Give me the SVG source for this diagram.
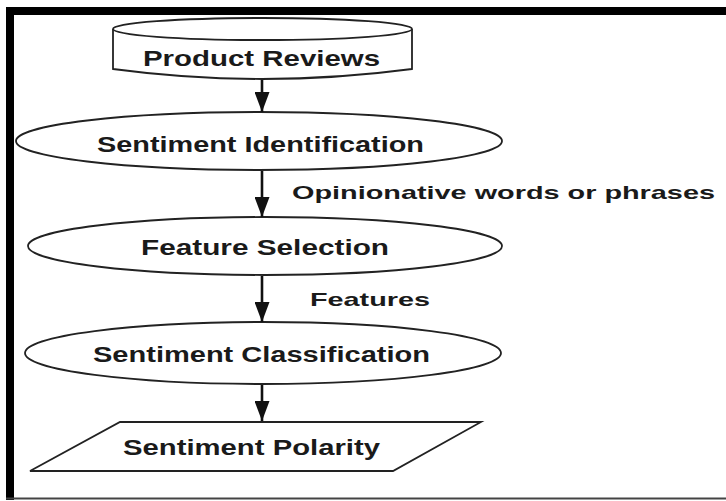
<svg xmlns="http://www.w3.org/2000/svg" width="726" height="501" viewBox="0 0 726 501">
  <defs>
    <marker id="ah" viewBox="0 0 20 15" refX="20" refY="7.5" markerWidth="20" markerHeight="15" markerUnits="userSpaceOnUse" orient="auto">
      <path d="M0,0 L20,7.5 L0,15 Z" fill="#111"/>
    </marker>
  </defs>
  <style>
    .shape { fill: #fff; stroke: #222; stroke-width: 1.8; }
    .node { font-family: "Liberation Sans", Arial, sans-serif; font-weight: bold; font-size: 22px; fill: #1a1a1a; }
    .lbl { font-family: "Liberation Sans", Arial, sans-serif; font-weight: bold; font-size: 18.5px; fill: #1a1a1a; }
    .conn { stroke: #111; stroke-width: 2.6; fill: none; marker-end: url(#ah); }
  </style>
  <rect x="0" y="0" width="726" height="501" fill="#fff"/>
  <g id="frame">
    <rect x="6" y="7" width="720" height="8" fill="#000"/>
    <rect x="6" y="7" width="8" height="493" fill="#000"/>
    <rect x="6" y="497.5" width="720" height="2" fill="#444"/>
  </g>

  <g id="product-reviews">
    <path class="shape" d="M113,29 L113,69 Q262,89 412,69 L412,29"/>
    <ellipse class="shape" cx="262.5" cy="29" rx="149.5" ry="11"/>
    <text class="node" x="143" y="65.5" textLength="237" lengthAdjust="spacingAndGlyphs">Product Reviews</text>
  </g>

  <g id="sentiment-identification">
    <ellipse class="shape" cx="259" cy="141" rx="243" ry="29"/>
    <text class="node" x="97" y="151.5" textLength="327" lengthAdjust="spacingAndGlyphs">Sentiment Identification</text>
  </g>

  <g id="feature-selection">
    <ellipse class="shape" cx="265" cy="246" rx="237" ry="29"/>
    <text class="node" x="141" y="254.5" textLength="248" lengthAdjust="spacingAndGlyphs">Feature Selection</text>
  </g>

  <g id="sentiment-classification">
    <ellipse class="shape" cx="263" cy="353" rx="238" ry="31"/>
    <text class="node" x="93" y="361.5" textLength="337" lengthAdjust="spacingAndGlyphs">Sentiment Classification</text>
  </g>

  <g id="sentiment-polarity">
    <polygon class="shape" points="120,422 481,422 393,471 30,471"/>
    <text class="node" x="123" y="454.5" textLength="257" lengthAdjust="spacingAndGlyphs">Sentiment Polarity</text>
  </g>

  <g id="connectors">
    <line class="conn" x1="262" y1="80" x2="262" y2="112"/>
    <line class="conn" x1="262" y1="171" x2="262" y2="217"/>
    <line class="conn" x1="262" y1="276" x2="262" y2="322"/>
    <line class="conn" x1="262" y1="385" x2="262" y2="421"/>
    <text class="lbl" x="292" y="199" textLength="423" lengthAdjust="spacingAndGlyphs">Opinionative words or phrases</text>
    <text class="lbl" x="310" y="306" textLength="120" lengthAdjust="spacingAndGlyphs">Features</text>
  </g>
</svg>
